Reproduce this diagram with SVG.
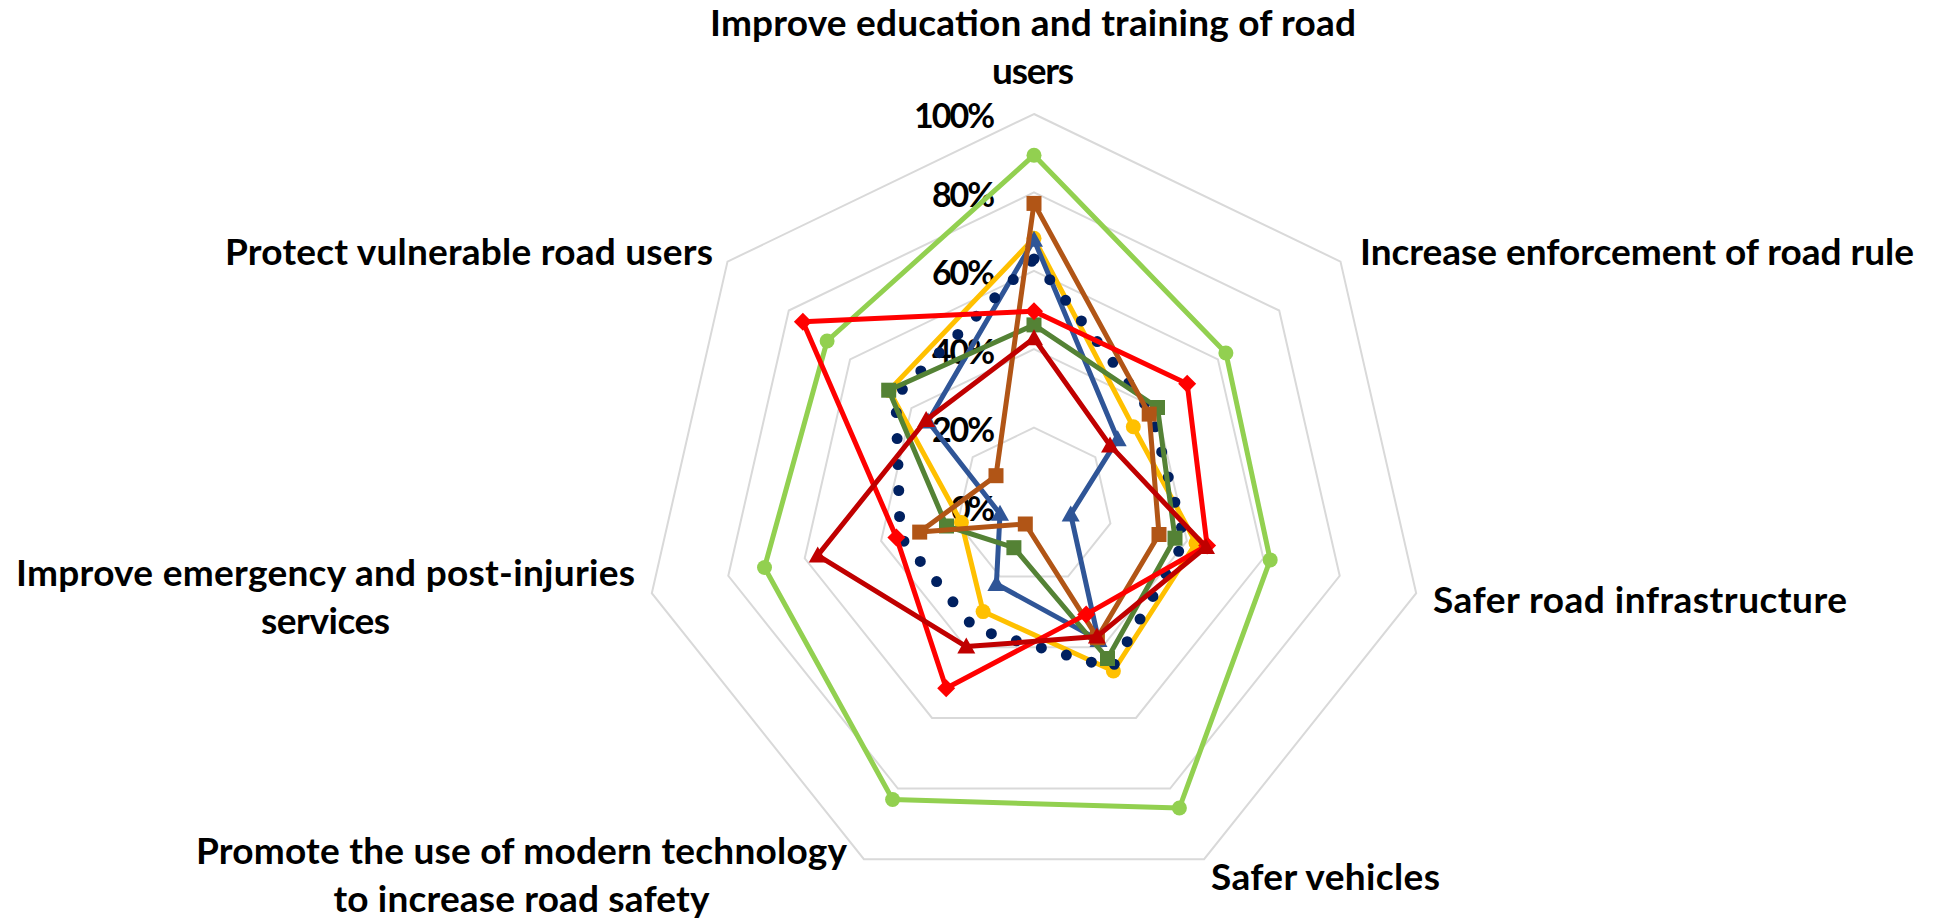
<svg xmlns="http://www.w3.org/2000/svg" width="1933" height="918" viewBox="0 0 1933 918">
<style>
.grid{fill:none;stroke:#D9D9D9;stroke-width:2}
.ser{fill:none;stroke-width:5;stroke-linejoin:round;stroke-linecap:round}
.cat{font-family:Lato,Carlito,"Liberation Sans",sans-serif;font-weight:bold;font-size:37px;fill:#000}
.tick{font-family:Lato,Carlito,"Liberation Sans",sans-serif;font-weight:bold;font-size:34px;fill:#000;text-anchor:end}
</style>
<defs>
<marker id="mk-lg" viewBox="-10 -10 20 20" markerWidth="20" markerHeight="20" markerUnits="userSpaceOnUse" refX="0" refY="0"><circle r="7.5" fill="#92D050"/></marker>
<marker id="mk-ye" viewBox="-10 -10 20 20" markerWidth="20" markerHeight="20" markerUnits="userSpaceOnUse" refX="0" refY="0"><circle r="7.5" fill="#FFC000"/></marker>
<marker id="mk-rd" viewBox="-10 -10 20 20" markerWidth="20" markerHeight="20" markerUnits="userSpaceOnUse" refX="0" refY="0"><path d="M0,-9L9,0L0,9L-9,0Z" fill="#FF0000"/></marker>
<marker id="mk-dr" viewBox="-10 -10 20 20" markerWidth="20" markerHeight="20" markerUnits="userSpaceOnUse" refX="0" refY="0"><path d="M0,-9L9,7L-9,7Z" fill="#C00000"/></marker>
<marker id="mk-bl" viewBox="-10 -10 20 20" markerWidth="20" markerHeight="20" markerUnits="userSpaceOnUse" refX="0" refY="0"><path d="M0,-9L9,7L-9,7Z" fill="#2F5597"/></marker>
<marker id="mk-br" viewBox="-10 -10 20 20" markerWidth="20" markerHeight="20" markerUnits="userSpaceOnUse" refX="0" refY="0"><rect x="-7.5" y="-7.5" width="15" height="15" fill="#B15516"/></marker>
<marker id="mk-gr" viewBox="-10 -10 20 20" markerWidth="20" markerHeight="20" markerUnits="userSpaceOnUse" refX="0" refY="0"><rect x="-7.5" y="-7.5" width="15" height="15" fill="#548235"/></marker>
</defs>
<rect width="1933" height="918" fill="#FFFFFF"/>
<g id="grid">
<polygon class="grid" points="1034,114 1340.5,261.6 1416.2,593.2 1204.1,859.2 863.9,859.2 651.8,593.2 727.5,261.6"/>
<polygon class="grid" points="1034,192.4 1279.2,310.5 1339.7,575.8 1170.1,788.5 897.9,788.5 728.3,575.8 788.8,310.5"/>
<polygon class="grid" points="1034,270.8 1217.9,359.4 1263.3,558.3 1136,717.9 932,717.9 804.7,558.3 850.1,359.4"/>
<polygon class="grid" points="1034,349.2 1156.6,408.2 1186.9,540.9 1102,647.3 966,647.3 881.1,540.9 911.4,408.2"/>
<polygon class="grid" points="1034,427.6 1095.3,457.1 1110.4,523.4 1068,576.6 1000,576.6 957.6,523.4 972.7,457.1"/>
</g>
<g id="ticks">
<text class="tick" x="995" y="128" textLength="81">100%</text>
<text class="tick" x="995" y="206.5" textLength="63">80%</text>
<text class="tick" x="995" y="285" textLength="63">60%</text>
<text class="tick" x="995" y="363.5" textLength="63">40%</text>
<text class="tick" x="995" y="442" textLength="63">20%</text>
<text class="tick" x="995" y="520.5" textLength="44">0%</text>
</g>
<g id="series">
<polygon id="s-lightgreen" class="ser" stroke="#92D050" stroke-width="4.5" marker-start="url(#mk-lg)" marker-mid="url(#mk-lg)" points="1034,155.2 1225.9,353 1270.2,559.9 1179.4,808 892.6,799.5 764.5,567.5 827.1,341"/>
<polygon id="s-yellow" class="ser" stroke="#FFC000" marker-start="url(#mk-ye)" marker-mid="url(#mk-ye)" points="1034,238.3 1133.3,426.8 1196,543 1113.4,671 983.1,611.6 961.4,522.6 889.1,390.4"/>
<polygon id="s-blue" class="ser" stroke="#2F5597" marker-start="url(#mk-bl)" marker-mid="url(#mk-bl)" points="1034,239.8 1117.7,439.3 1070.7,514.4 1098.5,639.9 996.4,584 1000,513.8 928,421.5"/>
<polygon id="s-navy" fill="none" stroke="#002060" stroke-width="11" stroke-linecap="round" stroke-dasharray="0 26" points="1034,259 1151.3,412.4 1184.9,540.4 1112.1,668.1 974.8,628.9 900.2,536.5 895.8,395.8"/>
<polygon id="s-green" class="ser" stroke="#548235" marker-start="url(#mk-gr)" marker-mid="url(#mk-gr)" points="1034,324.9 1157.5,407.5 1175,538.2 1107.5,658.5 1013.9,547.7 946.5,526 888.7,390.2"/>
<polygon id="s-brown" class="ser" stroke="#B15516" marker-start="url(#mk-br)" marker-mid="url(#mk-br)" points="1034,203.4 1149.2,414.1 1159,534.5 1097.4,637.7 1025.3,524 919.7,532.1 996,475.7"/>
<polygon id="s-red" class="ser" stroke="#FF0000" marker-start="url(#mk-rd)" marker-mid="url(#mk-rd)" points="1034,311.2 1187.2,383.8 1207.1,545.5 1086.2,614.4 946.2,688.3 896.4,537.4 802.9,321.7"/>
<polygon id="s-darkred" class="ser" stroke="#C00000" marker-start="url(#mk-dr)" marker-mid="url(#mk-dr)" points="1034,338.2 1110,445.4 1206,547 1096.9,636.6 966.3,646.6 817.7,555.4 926.1,420"/>
</g>
<g id="labels">
<text class="cat" x="1033" y="36" text-anchor="middle" textLength="646">Improve education and training of road</text>
<text class="cat" x="1033" y="84" text-anchor="middle" textLength="82">users</text>
<text class="cat" x="1360" y="265" textLength="554">Increase enforcement of road rule</text>
<text class="cat" x="1433" y="613" textLength="414">Safer road infrastructure</text>
<text class="cat" x="1211" y="890" textLength="229">Safer vehicles</text>
<text class="cat" x="521.5" y="864" text-anchor="middle" textLength="651">Promote the use of modern technology</text>
<text class="cat" x="521.5" y="912" text-anchor="middle" textLength="376">to increase road safety</text>
<text class="cat" x="325.5" y="586" text-anchor="middle" textLength="619">Improve emergency and post-injuries</text>
<text class="cat" x="325.5" y="634" text-anchor="middle" textLength="129">services</text>
<text class="cat" x="713" y="265" text-anchor="end" textLength="488">Protect vulnerable road users</text>
</g>
</svg>
